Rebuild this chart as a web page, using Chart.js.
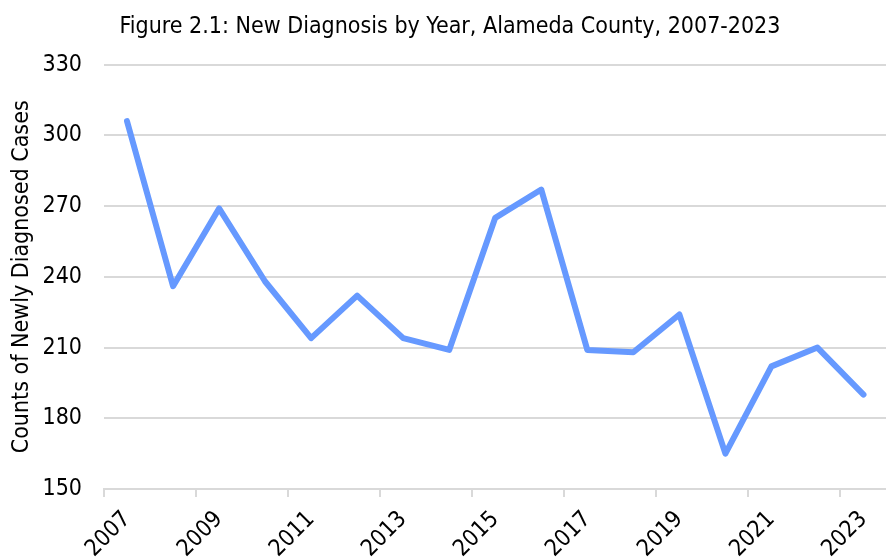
<!DOCTYPE html>
<html>
<head>
<meta charset="utf-8">
<script src="https://cdn.jsdelivr.net/npm/chart.js@4.4.0/dist/chart.umd.min.js"></script>
<style>
    html, body { margin: 0; padding: 0; background: #fff; overflow: hidden; }
    #wrap { width: 892px; height: 558px; }
</style>
</head>
<body>
<div id="wrap"><canvas id="myChart"></canvas></div>
<script>
const years = ['2007', '2008', '2009', '2010', '2011', '2012', '2013', '2014', '2015',
    '2016', '2017', '2018', '2019', '2020', '2021', '2022', '2023'];
const newDiagnoses = [306, 236, 269, 238, 214, 232, 214, 209, 265,
    277, 209, 208, 224, 165, 202, 210, 190];
const yTicks = [150, 180, 210, 240, 270, 300, 330];

const gridGray = '#d9d9d9';
const fontFamily = '"DejaVu Sans Condensed", "DejaVu Sans", sans-serif';

let ctx = document.getElementById('myChart').getContext('2d');

new Chart(ctx, {
    type: 'line',
    data: {
        labels: years,
        datasets: [
            {
                label: 'New Diagnosis',
                data: newDiagnoses,
                borderColor: '#6699ff',
                borderWidth: 6,
                borderCapStyle: 'round',
                borderJoinStyle: 'round',
                pointRadius: 0,
                tension: 0,
                fill: false,
            },
        ],
    },
    options: {
        responsive: true,
        maintainAspectRatio: false,
        animation: false,
        layout: {
            padding: { left: 8, right: 0, top: 0, bottom: 0 },
        },
        plugins: {
            legend: { display: false },
            tooltip: { enabled: false },
            title: {
                display: true,
                text: 'Figure 2.1: New Diagnosis by Year, Alameda County, 2007-2023',
                color: '#000',
                font: { family: fontFamily, size: 23, weight: 'normal', lineHeight: 1.2 },
                padding: { top: 13, bottom: 24 },
            },
        },
        scales: {
            x: {
                type: 'category',
                offset: true,
                afterFit: (axis) => {
                    axis.height = 69;
                },
                grid: {
                    drawOnChartArea: false,
                    offset: true,
                    tickLength: 8,
                    lineWidth: 2,
                    color: gridGray,
                    // tick marks only under labelled (odd) years
                    tickColor: (c) => (c.index % 2 === 0 ? gridGray : 'rgba(0,0,0,0)'),
                },
                border: { display: true, color: gridGray, width: 2 },
                ticks: {
                    autoSkip: false,
                    minRotation: 45,
                    maxRotation: 45,
                    padding: 9,
                    color: '#000',
                    font: { family: fontFamily, size: 23 },
                    callback: (v, i) => (i % 2 === 0 ? years[i] : ''),
                },
            },
            y: {
                min: yTicks[0],
                max: yTicks[yTicks.length - 1],
                afterBuildTicks: (axis) => {
                    axis.ticks = yTicks.map((v) => ({ value: v }));
                },
                afterFit: (axis) => {
                    axis.width = 96;
                },
                grid: {
                    drawTicks: false,
                    lineWidth: 2,
                    color: gridGray,
                },
                border: { display: false },
                ticks: {
                    padding: 22,
                    color: '#000',
                    font: { family: fontFamily, size: 23 },
                },
                title: {
                    display: true,
                    text: 'Counts of Newly Diagnosed Cases',
                    color: '#000',
                    font: { family: fontFamily, size: 23, lineHeight: 1.2 },
                    padding: { top: 0, bottom: 8 },
                },
            },
        },
    },
});
</script>
</body>
</html>
